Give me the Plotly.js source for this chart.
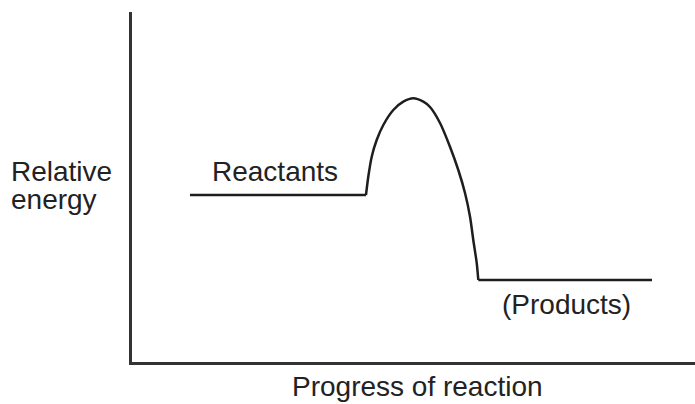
<!DOCTYPE html>
<html>
<head>
<meta charset="utf-8">
<script src="https://cdn.plot.ly/plotly-3.0.1.min.js"></script>
<style>
  html, body { margin: 0; padding: 0; background: #fff; }
  #chart { width: 695px; height: 404px; }
</style>
</head>
<body>
<div id="chart"></div>
<script>
// Energy profile (arbitrary units: progress 0-10, energy 0-10)
const progress = [1.03, 4.156, 4.197, 4.258, 4.346, 4.464, 4.641, 4.819, 4.996, 5.174, 5.293, 5.471, 5.648, 5.796, 5.915, 6.004, 6.062, 6.123, 6.151, 9.236];
const energy   = [4.771, 4.771, 5.294, 5.866, 6.343, 6.771, 7.2, 7.437, 7.534, 7.437, 7.286, 6.829, 6.151, 5.486, 4.829, 4.151, 3.486, 2.829, 2.343, 2.343];

const labelReactants = "Reactants";
const labelProducts = "(Products)";
const xAxisLabel = "Progress of reaction";
const yAxisLabel = ["Relative", "energy"];

const textFont = { family: "Liberation Sans, Arial, sans-serif", size: 28, color: "#222" };
const lineStyle = { color: "#1e1e1e", width: 2.5 };

const n = progress.length;
function seg(a, b, shape) {
  return {
    x: progress.slice(a, b + 1),
    y: energy.slice(a, b + 1),
    type: "scatter",
    mode: "lines",
    line: Object.assign({}, lineStyle, { shape: shape, smoothing: 0.8 }),
    hoverinfo: "skip",
    showlegend: false
  };
}
const traces = [
  seg(0, 1, "linear"),          // reactants plateau
  seg(1, n - 2, "spline"),      // activation hump
  seg(n - 2, n - 1, "linear")   // products plateau
];

const layout = {
  width: 695,
  height: 404,
  margin: { l: 132, r: 0, t: 12, b: 42, pad: 0 },
  paper_bgcolor: "#fff",
  plot_bgcolor: "#fff",
  xaxis: {
    range: [0, 10],
    showline: true, linecolor: "#333", linewidth: 3,
    showgrid: false, zeroline: false, showticklabels: false, ticks: "",
    fixedrange: true
  },
  yaxis: {
    range: [0, 10],
    showline: true, linecolor: "#333", linewidth: 3,
    showgrid: false, zeroline: false, showticklabels: false, ticks: "",
    fixedrange: true
  },
  annotations: [
    { text: yAxisLabel[0], xref: "paper", yref: "paper", x: -0.2185, y: 0.5457, xanchor: "left", yanchor: "middle", showarrow: false, font: textFont },
    { text: yAxisLabel[1], xref: "paper", yref: "paper", x: -0.2185, y: 0.4657, xanchor: "left", yanchor: "middle", showarrow: false, font: textFont },
    { text: labelReactants, xref: "paper", yref: "paper", x: 0.254, y: 0.5429, xanchor: "center", yanchor: "middle", showarrow: false, font: textFont },
    { text: labelProducts, xref: "paper", yref: "paper", x: 0.7718, y: 0.1657, xanchor: "center", yanchor: "middle", showarrow: false, font: textFont },
    { text: xAxisLabel, xref: "paper", yref: "paper", x: 0.5071, y: -0.0686, xanchor: "center", yanchor: "middle", showarrow: false, font: textFont }
  ]
};

Plotly.newPlot("chart", traces, layout, { displayModeBar: false, staticPlot: true });
</script>
</body>
</html>
